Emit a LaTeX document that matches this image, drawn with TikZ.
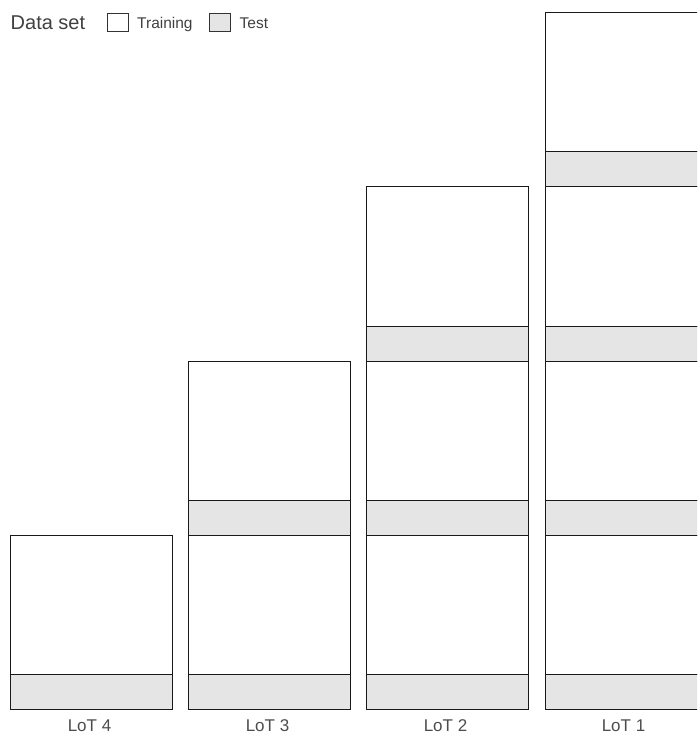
\documentclass[tikz,border=0pt]{standalone}
\usepackage{fontspec}
\setmainfont{Liberation Sans}
\begin{document}
\begin{tikzpicture}[x=1pt,y=-1pt,
  trainbox/.style={draw=black!90,line width=1.2pt,fill=white},
  testbox/.style={draw=black!90,line width=1.2pt,fill=black!10},
  lot/.style={font=\fontsize{17}{17}\selectfont,text=black!70,anchor=base},
  legtxt/.style={font=\fontsize{15.5}{16}\selectfont,text=black!75,anchor=base west,inner sep=0pt},
  legbox/.style={draw=black!80,line width=1.2pt,minimum width=21pt,minimum height=18pt,inner sep=0pt}]
\useasboundingbox (0,0) rectangle (697,736);
\begin{scope}
\clip (0,0) rectangle (697,736);
% columns: x-left, number of blocks
\foreach \xl/\n [count=\c] in {10/1,188/2,366/3,545/4}{
  \foreach \k in {1,...,\n}{
    \pgfmathsetmacro{\yb}{709-(\k-1)*174.25}
    \pgfmathsetmacro{\yt}{\yb-174.25}
    \pgfmathsetmacro{\yg}{\yb-35}
    \node[trainbox,inner sep=0pt,minimum width=162pt,minimum height=139.25pt,anchor=north west] (tr\c\k) at (\xl,\yt) {};
    \node[testbox,inner sep=0pt,minimum width=162pt,minimum height=35pt,anchor=north west] (te\c\k) at (\xl,\yg) {};
  }
}
\end{scope}
\node[lot] (l4) at (89.5,731.5) {LoT 4};
\node[lot] (l3) at (267.5,731.5) {LoT 3};
\node[lot] (l2) at (445.5,731.5) {LoT 2};
\node[lot] (l1) at (623.5,731.5) {LoT 1};
% legend
\node[font=\fontsize{20}{20}\selectfont,text=black!75,anchor=base west,inner sep=0pt] (ds) at (10.5,29.3) {Data set};
\node[legbox,fill=white,anchor=north west] (lb1) at (107,13) {};
\node[legtxt] (lt1) at (137,28.7) {Training};
\node[legbox,fill=black!10,anchor=north west] (lb2) at (208.5,13) {};
\node[legtxt] (lt2) at (239.5,28.7) {Test};
\end{tikzpicture}
\end{document}
